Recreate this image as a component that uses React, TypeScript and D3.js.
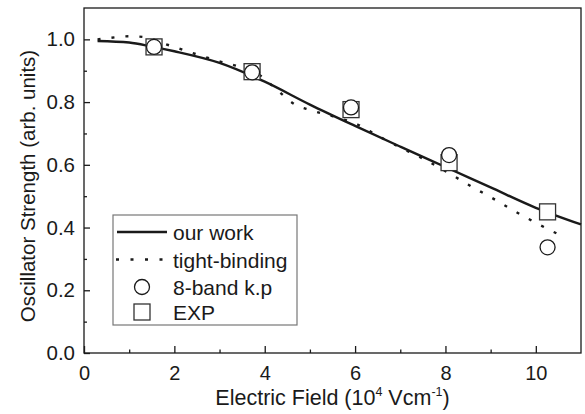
import React, { useEffect, useRef } from "react";
import * as d3 from "d3";

// curve from this work
const ourWorkX = [0.3, 1, 1.5, 2, 3, 4, 5, 6, 7, 8, 9, 10, 11];
const ourWorkY = [0.995, 0.99, 0.977, 0.962, 0.925, 0.865, 0.792, 0.724, 0.658, 0.593, 0.528, 0.463, 0.41];

// tight-binding curve
const tbX = [0.3, 0.6, 1.0, 1.3, 1.8, 2.5, 3.0, 3.5, 3.9, 4.3, 4.7, 5.0, 5.5, 6.0, 6.5, 7.0, 7.5, 8.0, 8.5, 9.0, 9.5, 10.0, 10.65];
const tbY = [1.0, 1.005, 1.01, 1.008, 0.985, 0.952, 0.93, 0.91, 0.885, 0.835, 0.79, 0.775, 0.755, 0.732, 0.693, 0.655, 0.62, 0.58, 0.537, 0.497, 0.455, 0.415, 0.368];

// markers
const fieldX = [1.55, 3.72, 5.91, 8.08, 10.26];
const kpY = [0.976, 0.895, 0.783, 0.631, 0.337];
const expY = [0.976, 0.897, 0.776, 0.607, 0.45];

const xMajor = [0, 2, 4, 6, 8, 10];
const xMinor = [1, 3, 5, 7, 9];
const yMajor = [0, 0.2, 0.4, 0.6, 0.8, 1.0];
const yMinor = [0.1, 0.3, 0.5, 0.7, 0.9];

const legendLabels = ["our work", "tight-binding", "8-band k.p", "EXP"];

export default function App() {
  const ref = useRef<SVGSVGElement>(null);

  useEffect(() => {
    const width = 585;
    const height = 414;
    const m = { left: 84, right: 4, top: 8, bottom: 61 };
    const font = "'Liberation Sans', Arial, sans-serif";
    const ink = "#1a1a1a";

    const svg = d3.select(ref.current);
    svg.selectAll("*").remove();
    svg.attr("width", width).attr("height", height);

    const x = d3.scaleLinear().domain([0, 11]).range([m.left, width - m.right]);
    const y = d3.scaleLinear().domain([0, 1.1]).range([height - m.bottom, m.top]);

    const line = d3
      .line<[number, number]>()
      .x((d) => x(d[0]))
      .y((d) => y(d[1]))
      .curve(d3.curveMonotoneX);

    const plot = svg.append("g");

    plot
      .append("path")
      .attr("d", line(tbX.map((v, i) => [v, tbY[i]])))
      .attr("fill", "none")
      .attr("stroke", ink)
      .attr("stroke-width", 2.4)
      .attr("stroke-dasharray", "3 11");

    plot
      .append("path")
      .attr("d", line(ourWorkX.map((v, i) => [v, ourWorkY[i]])))
      .attr("fill", "none")
      .attr("stroke", ink)
      .attr("stroke-width", 2.4);

    // squares first, circles on top
    plot
      .selectAll("rect.exp")
      .data(fieldX)
      .enter()
      .append("rect")
      .attr("class", "exp")
      .attr("x", (d) => x(d) - 8)
      .attr("y", (d, i) => y(expY[i]) - 8)
      .attr("width", 16)
      .attr("height", 16)
      .attr("fill", "#fff")
      .attr("stroke", "#333")
      .attr("stroke-width", 1.3);

    plot
      .selectAll("circle.kp")
      .data(fieldX)
      .enter()
      .append("circle")
      .attr("class", "kp")
      .attr("cx", (d) => x(d))
      .attr("cy", (d, i) => y(kpY[i]))
      .attr("r", 7.5)
      .attr("fill", "#fff")
      .attr("stroke", ink)
      .attr("stroke-width", 1.3);

    // frame
    svg
      .append("rect")
      .attr("x", m.left)
      .attr("y", m.top)
      .attr("width", width - m.left - m.right)
      .attr("height", height - m.top - m.bottom)
      .attr("fill", "none")
      .attr("stroke", ink)
      .attr("stroke-width", 1.3);

    // x axis (inward ticks)
    const xAxis = d3
      .axisBottom(x)
      .tickValues(xMajor)
      .tickSize(-7)
      .tickPadding(13)
      .tickFormat((d) => String(d));
    const gx = svg
      .append("g")
      .attr("transform", `translate(0,${height - m.bottom})`)
      .call(xAxis);
    gx.select(".domain").remove();
    gx.selectAll("line").attr("stroke", ink).attr("stroke-width", 1.3);
    gx.selectAll("text").attr("font-family", font).attr("font-size", 20).attr("fill", ink);

    const gxm = svg
      .append("g")
      .attr("transform", `translate(0,${height - m.bottom})`)
      .call(d3.axisBottom(x).tickValues(xMinor).tickSize(-3.5).tickFormat(() => ""));
    gxm.select(".domain").remove();
    gxm.selectAll("line").attr("stroke", ink).attr("stroke-width", 1.3);

    // y axis
    const yAxis = d3
      .axisLeft(y)
      .tickValues(yMajor)
      .tickSize(-6)
      .tickPadding(9)
      .tickFormat(d3.format(".1f"));
    const gy = svg.append("g").attr("transform", `translate(${m.left},0)`).call(yAxis);
    gy.select(".domain").remove();
    gy.selectAll("line").attr("stroke", ink).attr("stroke-width", 1.3);
    gy.selectAll("text").attr("font-family", font).attr("font-size", 20.5).attr("fill", ink);

    const gym = svg
      .append("g")
      .attr("transform", `translate(${m.left},0)`)
      .call(d3.axisLeft(y).tickValues(yMinor).tickSize(-3).tickFormat(() => ""));
    gym.select(".domain").remove();
    gym.selectAll("line").attr("stroke", ink).attr("stroke-width", 1.3);

    // axis titles
    const xt = svg
      .append("text")
      .attr("x", (m.left + width - m.right) / 2)
      .attr("y", 405)
      .attr("text-anchor", "middle")
      .attr("font-family", font)
      .attr("font-size", 21.5)
      .attr("fill", ink);
    xt.append("tspan").text("Electric Field (10");
    xt.append("tspan").attr("dy", -9).attr("font-size", 12.5).text("4");
    xt.append("tspan").attr("dy", 9).text(" Vcm");
    xt.append("tspan").attr("dy", -9).attr("font-size", 12.5).text("-1");
    xt.append("tspan").attr("dy", 9).text(")");

    svg
      .append("text")
      .attr("transform", `translate(35,186) rotate(-90)`)
      .attr("text-anchor", "middle")
      .attr("font-family", font)
      .attr("font-size", 20.5)
      .attr("fill", ink)
      .text("Oscillator Strength (arb. units)");

    // legend
    const lg = svg.append("g");
    lg.append("rect")
      .attr("x", 113)
      .attr("y", 215)
      .attr("width", 184)
      .attr("height", 110)
      .attr("fill", "#fff")
      .attr("stroke", "#777")
      .attr("stroke-width", 1.2);

    const rowY = [232, 259.5, 287, 312];
    lg.append("line")
      .attr("x1", 117).attr("x2", 167)
      .attr("y1", rowY[0]).attr("y2", rowY[0])
      .attr("stroke", ink).attr("stroke-width", 2.4);
    lg.append("line")
      .attr("x1", 116).attr("x2", 166)
      .attr("y1", rowY[1]).attr("y2", rowY[1])
      .attr("stroke", ink).attr("stroke-width", 2.4)
      .attr("stroke-dasharray", "3 11.5");
    lg.append("circle")
      .attr("cx", 142).attr("cy", rowY[2]).attr("r", 7.5)
      .attr("fill", "#fff").attr("stroke", ink).attr("stroke-width", 1.3);
    lg.append("rect")
      .attr("x", 134).attr("y", rowY[3] - 8).attr("width", 16).attr("height", 16)
      .attr("fill", "#fff").attr("stroke", "#333").attr("stroke-width", 1.3);

    lg.selectAll("text.lab")
      .data(legendLabels)
      .enter()
      .append("text")
      .attr("class", "lab")
      .attr("x", 173)
      .attr("y", (d, i) => rowY[i] + 8)
      .attr("font-family", font)
      .attr("font-size", 21)
      .attr("fill", ink)
      .text((d) => d);
  }, []);

  return (
    <svg
      ref={ref}
      style={{ position: "absolute", left: 0, top: 0, background: "#fff" }}
    />
  );
}
